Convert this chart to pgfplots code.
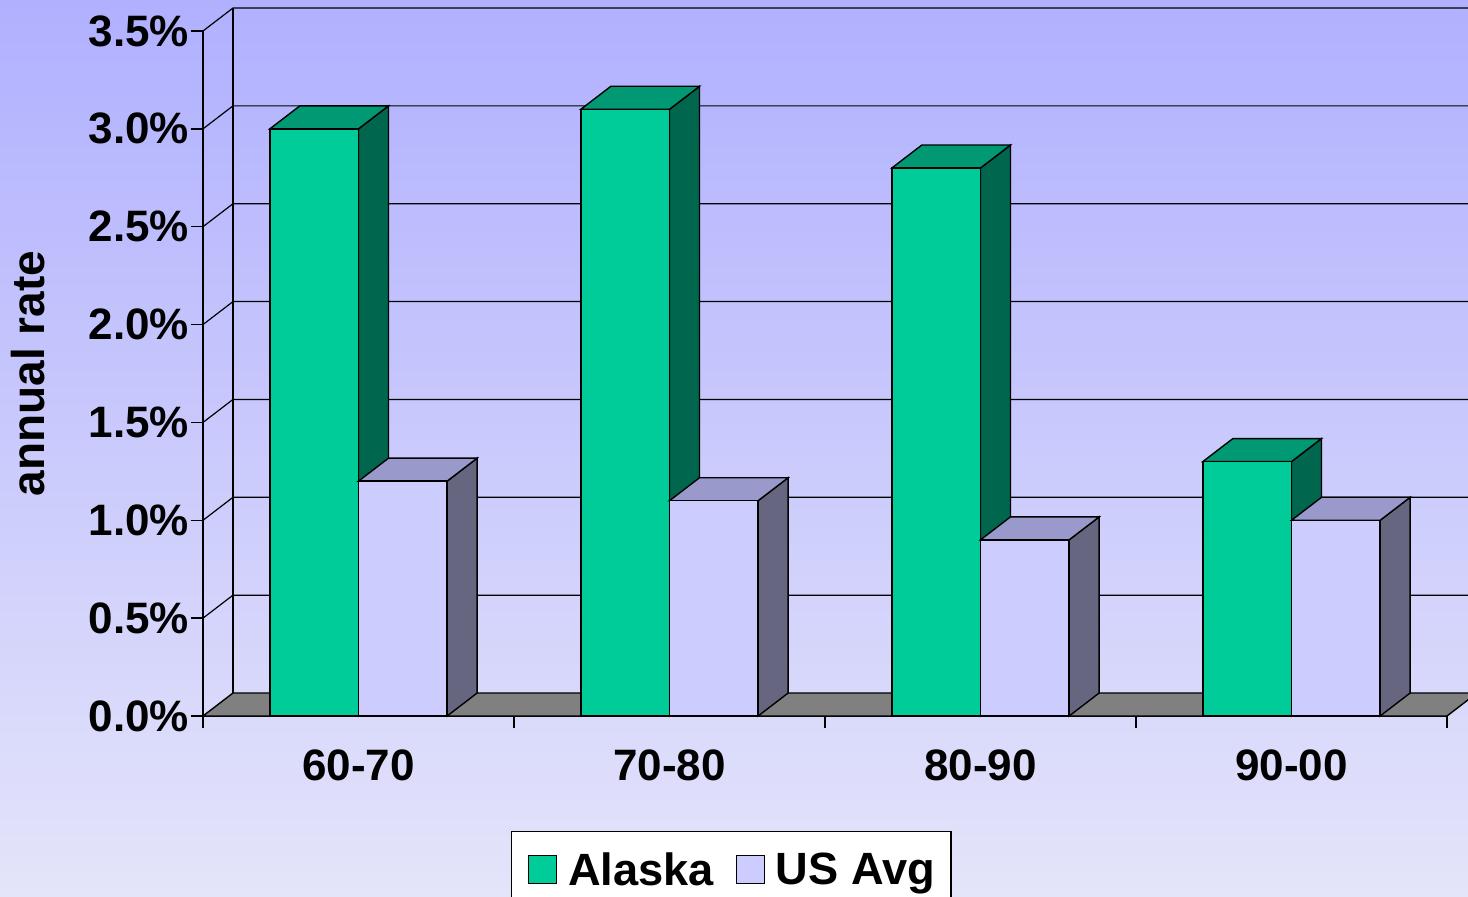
\documentclass[border=0pt]{standalone}
\usepackage{pgfplots}
\pgfplotsset{compat=1.18}
\usepackage{pgfplotstable}
\usepackage{fontspec}
\setmainfont{Liberation Sans}
\definecolor{akfront}{RGB}{0,204,153}
\definecolor{aktop}{RGB}{0,153,115}
\definecolor{akside}{RGB}{0,102,77}
\definecolor{usfront}{RGB}{204,204,255}
\definecolor{ustop}{RGB}{153,153,204}
\definecolor{usside}{RGB}{102,102,128}
\definecolor{floorgray}{RGB}{128,128,128}
\definecolor{bgtop}{RGB}{176,176,255}
\definecolor{bgbot}{RGB}{228,228,250}

\pgfplotstableread{
idx cat ak us
0 60-70 3.0 1.2
1 70-80 3.1 1.1
2 80-90 2.8 0.9
3 90-00 1.3 1.0
}\rates

\newcommand{\dx}{0.0965}
\newcommand{\dy}{0.1175}
\newcommand{\bigfont}{\bfseries\fontsize{22}{26}\selectfont}
\newcommand{\legfont}{\bfseries\fontsize{22.6}{27}\selectfont}
\newcommand{\labfont}{\bfseries\fontsize{23}{27}\selectfont}

% side and top faces of a bar: #1 left x, #2 right x, #3 value, #4 top colour, #5 side colour
\newcommand{\prism}[5]{%
  \pgfmathsetmacro\xa{#1}\pgfmathsetmacro\xb{#2}%
  \pgfmathsetmacro\xad{#1+\dx}\pgfmathsetmacro\xbd{#2+\dx}%
  \pgfmathsetmacro\vd{#3+\dy}%
  \edef\temp{\noexpand\addplot[forget plot, fill=#5, draw=black, line width=0.7pt] coordinates {(\xb,0) (\xbd,\dy) (\xbd,\vd) (\xb,#3)} --cycle;
  \noexpand\addplot[forget plot, fill=#4, draw=black, line width=0.7pt] coordinates {(\xa,#3) (\xb,#3) (\xbd,\vd) (\xad,\vd)} --cycle;}%
  \temp
}

\begin{document}
\begin{tikzpicture}
\useasboundingbox (-101.5pt,-90pt) rectangle (632.5pt,358pt);
\clip (-101.5pt,-90pt) rectangle (632.5pt,358pt);
\shade[top color=bgtop, bottom color=bgbot] (-101.5pt,-90pt) rectangle (632.5pt,358pt);
\begin{axis}[
  anchor=south west, at={(0pt,0pt)},
  x=155.5pt, y=97.857pt,
  xmin=0, xmax=4, ymin=0, ymax=3.5,
  clip=false,
  axis x line*=bottom, axis y line*=left,
  axis line style={black, line width=0.7pt, -},
  tick style={black, line width=0.7pt},
  tick align=outside,
  major tick length=6pt,
  ytick={0,0.5,...,3.5},
  /pgf/number format/assume math mode=true,
  yticklabel={\pgfmathprintnumber[fixed,fixed zerofill,precision=1]{\tick}\%},
  yticklabel style={xshift=2.5pt},
  xtick={0,1,2,3,4},
  xticklabels={,,,,},
  extra x ticks={0.5,1.5,2.5,3.5},
  extra x tick labels={60-70,70-80,80-90,90-00},
  extra x tick style={major tick length=0pt, xticklabel style={yshift=-13.5pt}},
  tick label style={font=\bigfont},
  ylabel={annual rate},
  ylabel style={font=\labfont, at={(axis description cs:-0.1407,0.5)}, anchor=center},
  legend columns=2,
  legend style={font=\legfont, at={(axis description cs:0.4248,-0.1679)}, anchor=north,
    fill=white, draw=black, line width=0.6pt,
    nodes={inner sep=0pt},
    inner xsep=8pt, inner ysep=10.5pt,
    /tikz/every odd column/.append style={column sep=5.5pt},
    /tikz/every even column/.append style={column sep=11pt}},
  legend image code/.code={\draw[#1, draw=black, line width=0.6pt] (0pt,-6.5pt) rectangle (14pt,7.5pt);},
]
% walls and gridlines
\draw[line width=0.6pt] (axis cs:0,0.5) -- (axis cs:0.0965,0.6175) -- (axis cs:4.3,0.6175);
\draw[line width=0.6pt] (axis cs:0,1.0) -- (axis cs:0.0965,1.1175) -- (axis cs:4.3,1.1175);
\draw[line width=0.6pt] (axis cs:0,1.5) -- (axis cs:0.0965,1.6175) -- (axis cs:4.3,1.6175);
\draw[line width=0.6pt] (axis cs:0,2.0) -- (axis cs:0.0965,2.1175) -- (axis cs:4.3,2.1175);
\draw[line width=0.6pt] (axis cs:0,2.5) -- (axis cs:0.0965,2.6175) -- (axis cs:4.3,2.6175);
\draw[line width=0.6pt] (axis cs:0,3.0) -- (axis cs:0.0965,3.1175) -- (axis cs:4.3,3.1175);
\draw[line width=0.6pt] (axis cs:0,3.5) -- (axis cs:0.0965,3.6175) -- (axis cs:4.3,3.6175);
\draw[line width=0.6pt] (axis cs:0.0965,0.1175) -- (axis cs:0.0965,3.6175);
\filldraw[fill=floorgray, draw=black, line width=0.7pt] (axis cs:0,0) -- (axis cs:4,0) -- (axis cs:4.0965,0.1175) -- (axis cs:0.0965,0.1175) -- cycle;
% Alaska bars
\pgfplotsinvokeforeach{0,1,2,3}{%
  \pgfplotstablegetelem{#1}{ak}\of\rates
  \prism{#1+0.215}{#1+0.5}{\pgfplotsretval}{aktop}{akside}
}
\addplot[ybar, bar width=0.285, bar shift=-0.1425, fill=akfront, draw=black, line width=0.7pt]
  table[x expr=\thisrow{idx}+0.5, y=ak]{\rates};
\addlegendentry{Alaska}
% US bars
\pgfplotsinvokeforeach{0,1,2,3}{%
  \pgfplotstablegetelem{#1}{us}\of\rates
  \prism{#1+0.5}{#1+0.785}{\pgfplotsretval}{ustop}{usside}
}
\addplot[ybar, bar width=0.285, bar shift=0.1425, fill=usfront, draw=black, line width=0.7pt]
  table[x expr=\thisrow{idx}+0.5, y=us]{\rates};
\addlegendentry{US Avg}
\end{axis}
\end{tikzpicture}
\end{document}
